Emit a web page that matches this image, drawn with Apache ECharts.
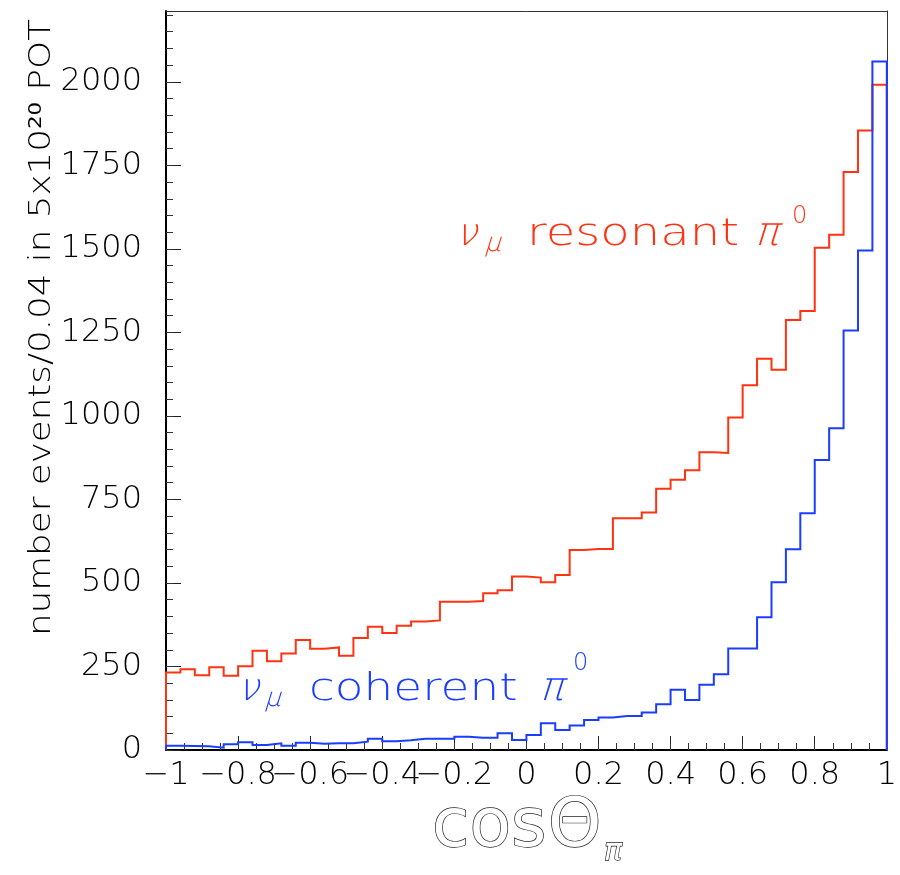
<!DOCTYPE html>
<html>
<head>
<meta charset="utf-8">
<script src="https://cdn.jsdelivr.net/npm/echarts@6/dist/echarts.min.js"></script>
<style>
  html, body { margin: 0; padding: 0; background: #fff; }
  #chart { width: 900px; height: 875px; }
</style>
</head>
<body>
<div id="chart"></div>
<script>
// ---- data ----
const binLow = -1;
const binWidth = 0.04;
const resonantPi0 = [
  232, 242, 224, 248, 222, 251, 297, 266, 289, 329,
  303, 307, 282, 335, 369, 350, 372, 385, 388, 444,
  444, 446, 469, 478, 519, 516, 502, 524, 599, 602,
  602, 694, 694, 711, 782, 809, 837, 891, 889, 995,
  1092, 1171, 1138, 1287, 1314, 1503, 1542, 1730, 1854, 1991
];
const coherentPi0 = [
  13, 12, 11, 7, 17, 23, 15, 20, 13, 22,
  19, 20, 20, 25, 34, 26, 29, 34, 34, 34,
  40, 37, 37, 50, 30, 45, 80, 60, 73, 90,
  97, 102, 102, 112, 137, 180, 150, 195, 227, 304,
  304, 397, 502, 601, 709, 868, 963, 1256, 1495, 2061
];
const xTickLabels = ['\u22121', '\u22120.8', '\u22120.6', '\u22120.4', '\u22120.2', '0', '0.2', '0.4', '0.6', '0.8', '1'];
const yTickLabels = ['0', '250', '500', '750', '1000', '1250', '1500', '1750', '2000'];

const RED = '#ff3311';
const BLUE = '#1a3dff';

function histSteps(vals) {
  const pts = [[binLow, 0]];
  vals.forEach((v, i) => {
    const a = binLow + i * binWidth;
    const b = binLow + (i + 1) * binWidth;
    pts.push([a, v], [b, v]);
  });
  pts.push([binLow + vals.length * binWidth, 0]);
  return pts;
}

const chart = echarts.init(document.getElementById('chart'), null, { renderer: 'canvas' });
const FONT = '"DejaVu Sans", sans-serif';
const labelStyle = { fontFamily: FONT, fontSize: 32, color: '#000', fontWeight: 200 };

function txt(x, y, text, size, color, opts) {
  opts = opts || {};
  const el = {
    type: 'text', x: x, y: y,
    style: Object.assign({
      text: text, fontSize: size, fontFamily: FONT,
      fontStyle: opts.italic ? 'italic' : 'normal',
      fontWeight: opts.weight || 'normal',
      fill: color, align: 'left', verticalAlign: 'middle'
    }, opts.style || {})
  };
  if (opts.scaleX) el.scaleX = opts.scaleX;
  if (opts.rotation) el.rotation = opts.rotation;
  if (opts.skewX) el.skewX = opts.skewX;
  return el;
}
const SK = { weight: 200, skewX: -0.3 };

const option = {
  animation: false,
  backgroundColor: '#fff',
  grid: { left: 166, right: 5, top: 11, bottom: 125, containLabel: false },
  xAxis: [
    {
      type: 'value', min: -1, max: 1, interval: 0.2, position: 'bottom',
      axisLine: { show: true, onZero: false, lineStyle: { color: '#000', width: 2 } },
      axisTick: { show: true, inside: true, length: 14, lineStyle: { color: '#222', width: 1 } },
      axisLabel: Object.assign({
        margin: 10,
        formatter: v => { const i = Math.round((v - binLow) / 0.2); return xTickLabels[i] ?? ''; }
      }, labelStyle),
      splitLine: { show: false }
    },
    {
      type: 'value', min: -1, max: 1, interval: 0.05, position: 'bottom',
      axisLine: { show: false, onZero: false },
      axisTick: { show: true, inside: true, length: 7, lineStyle: { color: '#333', width: 1 } },
      axisLabel: { show: false },
      splitLine: { show: false }
    },
    {
      type: 'value', min: -1, max: 1, position: 'top',
      axisLine: { show: true, onZero: false, lineStyle: { color: '#333', width: 1 } },
      axisTick: { show: false }, axisLabel: { show: false }, splitLine: { show: false }
    }
  ],
  yAxis: [
    {
      type: 'value', min: 0, max: 2212, interval: 250, position: 'left',
      axisLine: { show: true, onZero: false, lineStyle: { color: '#000', width: 2 } },
      axisTick: { show: true, inside: true, length: 15, lineStyle: { color: '#222', width: 1 } },
      axisLabel: Object.assign({
        margin: 24, showMaxLabel: false,
        formatter: v => { const i = Math.round(v / 250); return (Math.abs(v - i * 250) < 1e-6) ? (yTickLabels[i] ?? '') : ''; }
      }, labelStyle),
      splitLine: { show: false }
    },
    {
      type: 'value', min: 0, max: 2212, interval: 50, position: 'left',
      axisLine: { show: false, onZero: false },
      axisTick: { show: true, inside: true, length: 7, lineStyle: { color: '#333', width: 1 } },
      axisLabel: { show: false }, splitLine: { show: false }
    },
    {
      type: 'value', min: 0, max: 2212, position: 'right',
      axisLine: { show: true, onZero: false, lineStyle: { color: '#333', width: 1 } },
      axisTick: { show: false }, axisLabel: { show: false }, splitLine: { show: false }
    }
  ],
  series: [
    {
      name: 'resonant', type: 'line', xAxisIndex: 0, yAxisIndex: 0,
      data: histSteps(resonantPi0), symbol: 'none', showSymbol: false,
      lineStyle: { color: RED, width: 2, join: 'miter', cap: 'butt' }, z: 3
    },
    {
      name: 'coherent', type: 'line', xAxisIndex: 0, yAxisIndex: 0,
      data: histSteps(coherentPi0), symbol: 'none', showSymbol: false,
      lineStyle: { color: BLUE, width: 2, join: 'miter', cap: 'butt' }, z: 4
    }
  ],
  graphic: [
    // y axis title
    txt(42, 636, 'number events/0.04 in 5x10{sup|20} POT', 30, '#000', {
      rotation: Math.PI / 2, scaleX: 1.19, weight: 200,
      style: { rich: { sup: { fontSize: 18, fontFamily: FONT, fontWeight: 'normal', lineHeight: 12, verticalAlign: 'top', fill: '#000' } } }
    }),
    // x axis title (outlined)
    txt(432, 828, 'cos', 68, '#fff', { style: { stroke: '#222', lineWidth: 1.4 } }),
    txt(548, 828, '\u0398', 68, '#fff', { style: { stroke: '#222', lineWidth: 1.4 } }),
    txt(604, 852, '\u03c0', 30, '#fff', { italic: true, style: { stroke: '#222', lineWidth: 1.3 } }),
    // red annotation
    txt(458, 235, '\u03bd', 38, RED, SK),
    txt(486, 244, '\u03bc', 26, RED, SK),
    txt(527, 235, 'resonant', 37, RED, { scaleX: 1.3, weight: 200 }),
    txt(757, 235, '\u03c0', 40, RED, SK),
    txt(792, 217, '0', 24, RED, { weight: 200 }),
    // blue annotation
    txt(240, 690, '\u03bd', 38, BLUE, SK),
    txt(266, 699, '\u03bc', 26, BLUE, SK),
    txt(309, 690, 'coherent', 37, BLUE, { scaleX: 1.27, weight: 200 }),
    txt(542, 690, '\u03c0', 40, BLUE, SK),
    txt(573, 664, '0', 24, BLUE, { weight: 200 })
  ]
};
chart.setOption(option);
</script>
</body>
</html>
